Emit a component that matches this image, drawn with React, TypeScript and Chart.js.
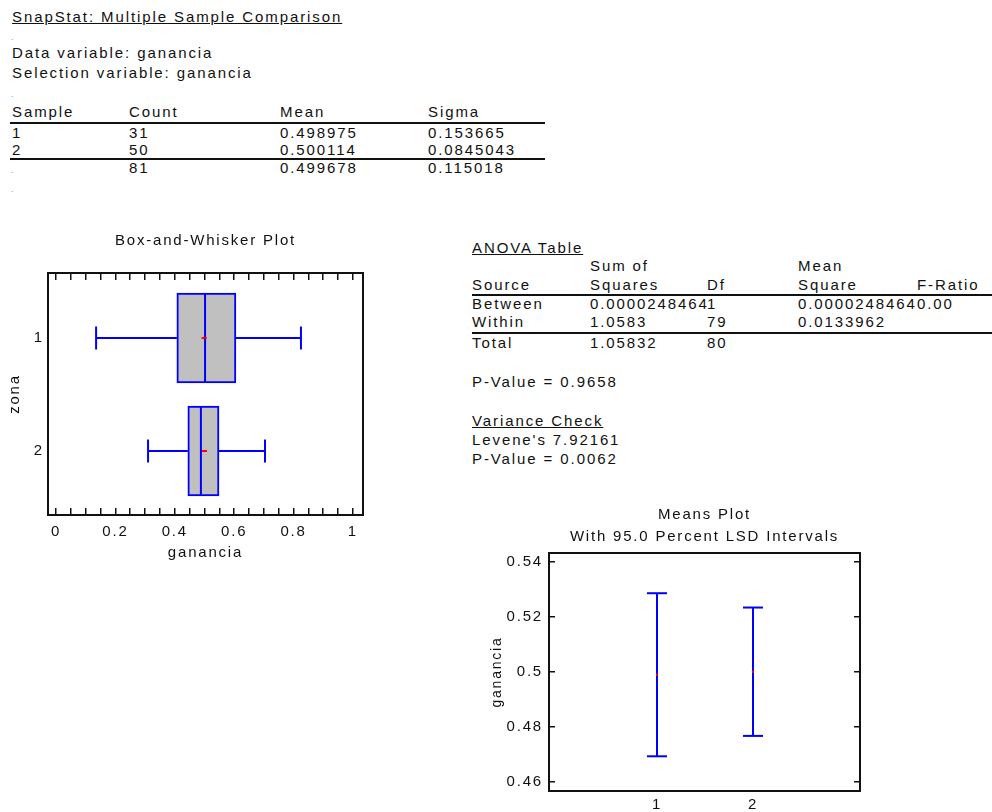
import React, { useEffect, useRef } from "react";
import { Chart, registerables } from "chart.js";

Chart.register(...registerables);

// ---------- data ----------
const SAMPLE_IDS = ["1", "2", ""];
const SAMPLE_COUNTS = ["31", "50", "81"];
const SAMPLE_MEANS = ["0.498975", "0.500114", "0.499678"];
const SAMPLE_SIGMAS = ["0.153665", "0.0845043", "0.115018"];

const ANOVA_SOURCES = ["Between", "Within", "Total"];
const ANOVA_SS = ["0.0000248464", "1.0583", "1.05832"];
const ANOVA_DF = ["1", "79", "80"];
const ANOVA_MS = ["0.0000248464", "0.0133962", ""];
const ANOVA_F = ["0.00", "", ""];

const ZONES = [1, 2];
const ZONE_LABELS = ["1", "2"];
const BOX_MIN = [0.135, 0.31];
const BOX_Q1 = [0.407, 0.444];
const BOX_MEDIAN = [0.502, 0.488];
const BOX_Q3 = [0.606, 0.549];
const BOX_MAX = [0.825, 0.704];
const BOX_MEAN = [0.498975, 0.500114];
const BOX_X_TICKS = [0, 0.05, 0.1, 0.15, 0.2, 0.25, 0.3, 0.35, 0.4, 0.45, 0.5, 0.55, 0.6, 0.65, 0.7, 0.75, 0.8, 0.85, 0.9, 0.95, 1];
const BOX_X_LABEL_VALUES = [0, 0.2, 0.4, 0.6, 0.8, 1];
const BOX_X_LABELS = ["0", "0.2", "0.4", "0.6", "0.8", "1"];

const GROUPS = [1, 2];
const GROUP_LABELS = ["1", "2"];
const GROUP_MEANS = [0.498975, 0.500114];
const LSD_LOW = [0.4694, 0.4768];
const LSD_HIGH = [0.5286, 0.5234];
const MEANS_Y_TICKS = [0.46, 0.48, 0.5, 0.52, 0.54];
const MEANS_Y_LABELS = ["0.46", "0.48", "0.5", "0.52", "0.54"];

// ---------- style ----------
const FONT = "'Liberation Sans', Arial, sans-serif";
const TEXT = "#111111";
const BLUE = "#0000ff";

const near = (a: number, b: number) => Math.abs(a - b) < 1e-9;

const spacingPlugin = {
  id: "spacing",
  beforeDraw(chart: any) {
    (chart.ctx as any).letterSpacing = "1.8px";
  },
};

const framePlugin = {
  id: "frame",
  afterDraw(chart: any) {
    const { ctx, chartArea } = chart;
    ctx.save();
    ctx.strokeStyle = "#111";
    ctx.lineWidth = 2;
    ctx.strokeRect(chartArea.left, chartArea.top, chartArea.right - chartArea.left, chartArea.bottom - chartArea.top);
    ctx.restore();
  },
};

function seg(ctx: any, x1: number, y1: number, x2: number, y2: number) {
  ctx.beginPath();
  ctx.moveTo(x1, y1);
  ctx.lineTo(x2, y2);
  ctx.stroke();
}

const boxPlugin = {
  id: "boxParts",
  afterDatasetsDraw(chart: any) {
    const { ctx } = chart;
    const xs = chart.scales.x;
    const ys = chart.scales.y;
    ctx.save();
    ZONES.forEach((z, i) => {
      const yc = ys.getPixelForValue(z);
      ctx.strokeStyle = BLUE;
      ctx.lineWidth = 2;
      seg(ctx, xs.getPixelForValue(BOX_MIN[i]), yc, xs.getPixelForValue(BOX_Q1[i]), yc);
      seg(ctx, xs.getPixelForValue(BOX_Q3[i]), yc, xs.getPixelForValue(BOX_MAX[i]), yc);
      seg(ctx, xs.getPixelForValue(BOX_MIN[i]), yc - 11.5, xs.getPixelForValue(BOX_MIN[i]), yc + 11.5);
      seg(ctx, xs.getPixelForValue(BOX_MAX[i]), yc - 11.5, xs.getPixelForValue(BOX_MAX[i]), yc + 11.5);
      seg(ctx, xs.getPixelForValue(BOX_MEDIAN[i]), yc - 44, xs.getPixelForValue(BOX_MEDIAN[i]), yc + 44);
      ctx.strokeStyle = "#ff0000";
      const mx = xs.getPixelForValue(BOX_MEAN[i]);
      seg(ctx, mx - 2.5, yc, mx + 2.5, yc);
    });
    ctx.restore();
  },
};

const intervalPlugin = {
  id: "intervals",
  beforeDatasetsDraw(chart: any) {
    const { ctx } = chart;
    const xs = chart.scales.x;
    const ys = chart.scales.y;
    ctx.save();
    ctx.strokeStyle = BLUE;
    ctx.lineWidth = 2;
    GROUPS.forEach((g, i) => {
      const xc = xs.getPixelForValue(g);
      const yl = ys.getPixelForValue(LSD_LOW[i]);
      const yh = ys.getPixelForValue(LSD_HIGH[i]);
      seg(ctx, xc, yl, xc, yh);
      seg(ctx, xc - 10, yl, xc + 10, yl);
      seg(ctx, xc - 10, yh, xc + 10, yh);
    });
    ctx.restore();
  },
};

function BoxPlot() {
  const ref = useRef<HTMLCanvasElement>(null);
  useEffect(() => {
    const font = { family: FONT, size: 15, weight: "normal" as const };
    const chart = new Chart(ref.current!, {
      type: "bar",
      data: {
        datasets: [
          {
            data: ZONES.map((z, i) => ({ x: [BOX_Q1[i], BOX_Q3[i]], y: z })) as any,
            backgroundColor: "#c0c0c0",
            borderColor: BLUE,
            borderWidth: 2,
            borderSkipped: false,
            barThickness: 90,
            xAxisID: "x",
            yAxisID: "y",
          },
        ],
      },
      options: {
        indexAxis: "y",
        animation: false,
        responsive: false,
        devicePixelRatio: 1,
        layout: { padding: { left: 0, top: 0, right: 17, bottom: 0 } },
        plugins: {
          legend: { display: false },
          tooltip: { enabled: false },
          title: {
            display: true,
            fullSize: false,
            text: "Box-and-Whisker Plot",
            color: TEXT,
            font,
            padding: { top: 7, bottom: 23 },
          },
        },
        scales: {
          x: {
            type: "linear",
            position: "bottom",
            bounds: "data",
            offset: false,
            min: -0.027,
            max: 1.034,
            afterBuildTicks: (s: any) => {
              s.ticks = BOX_X_TICKS.map((v) => ({ value: v }));
            },
            ticks: {
              autoSkip: false,
              maxRotation: 0,
              padding: 15,
              color: TEXT,
              font,
              callback: (v: any) => {
                const k = BOX_X_LABEL_VALUES.findIndex((l) => near(l, Number(v)));
                return k >= 0 ? BOX_X_LABELS[k] : "";
              },
            },
            grid: { display: true, offset: false, drawOnChartArea: false, drawTicks: true, tickLength: -7, color: "#111", lineWidth: 1.5 },
            border: { display: false },
            title: { display: true, text: "ganancia", color: TEXT, font, padding: { top: 0, bottom: 8 } },
            afterFit: (s: any) => {
              s.height = 55;
            },
          },
          xTop: {
            type: "linear",
            position: "top",
            bounds: "data",
            offset: false,
            min: -0.027,
            max: 1.034,
            afterBuildTicks: (s: any) => {
              s.ticks = BOX_X_TICKS.map((v) => ({ value: v }));
            },
            ticks: { display: false },
            grid: { display: true, offset: false, drawOnChartArea: false, drawTicks: true, tickLength: -7, color: "#111", lineWidth: 1.5 },
            border: { display: false },
            afterFit: (s: any) => {
              s.height = 0;
            },
          },
          y: {
            type: "linear",
            position: "left",
            reverse: true,
            bounds: "data",
            offset: false,
            min: 0.425,
            max: 2.566,
            afterBuildTicks: (s: any) => {
              s.ticks = ZONES.map((v) => ({ value: v }));
            },
            ticks: {
              padding: 4,
              color: TEXT,
              font,
              callback: (v: any) => {
                const k = ZONES.findIndex((z) => near(z, Number(v)));
                return k >= 0 ? ZONE_LABELS[k] : "";
              },
            },
            grid: { display: false, offset: false, drawTicks: false },
            border: { display: false },
            title: { display: true, text: "zona", color: TEXT, font, padding: { top: 6, bottom: 0 } },
            afterFit: (s: any) => {
              s.width = 48;
            },
          },
        },
      } as any,
      plugins: [spacingPlugin, boxPlugin, framePlugin],
    });
    return () => chart.destroy();
  }, []);
  return (
    <canvas
      ref={ref}
      width={380}
      height={345}
      style={{ position: "absolute", left: 0, top: 225, width: 380, height: 345 }}
    />
  );
}

function MeansPlot() {
  const ref = useRef<HTMLCanvasElement>(null);
  useEffect(() => {
    const font = { family: FONT, size: 15, weight: "normal" as const };
    const chart = new Chart(ref.current!, {
      type: "scatter",
      data: {
        datasets: [
          {
            data: GROUPS.map((g, i) => ({ x: g, y: GROUP_MEANS[i] })),
            pointRadius: 1.2,
            pointBackgroundColor: "#ff0000",
            pointBorderColor: "#ff0000",
            pointBorderWidth: 0,
            xAxisID: "x",
            yAxisID: "y",
          },
        ],
      },
      options: {
        animation: false,
        responsive: false,
        devicePixelRatio: 1,
        layout: { padding: { left: 0, top: 0, right: 20, bottom: 0 } },
        plugins: {
          legend: { display: false },
          tooltip: { enabled: false },
          title: {
            display: true,
            fullSize: false,
            text: ["Means Plot", "With 95.0 Percent LSD Intervals"],
            color: TEXT,
            font: { family: FONT, size: 15, weight: "normal", lineHeight: 1.45 },
            padding: { top: 4, bottom: 5.5 },
          },
        },
        scales: {
          x: {
            type: "linear",
            position: "bottom",
            bounds: "data",
            min: -0.125,
            max: 3.115,
            afterBuildTicks: (s: any) => {
              s.ticks = GROUPS.map((v) => ({ value: v }));
            },
            ticks: {
              padding: 4.5,
              color: TEXT,
              font,
              callback: (v: any) => {
                const k = GROUPS.findIndex((g) => near(g, Number(v)));
                return k >= 0 ? GROUP_LABELS[k] : "";
              },
            },
            grid: { display: false, drawTicks: false },
            border: { display: false },
            afterFit: (s: any) => {
              s.height = 18;
            },
          },
          y: {
            type: "linear",
            position: "left",
            bounds: "data",
            min: 0.4568,
            max: 0.5432,
            afterBuildTicks: (s: any) => {
              s.ticks = MEANS_Y_TICKS.map((v) => ({ value: v }));
            },
            ticks: {
              padding: 12,
              color: TEXT,
              font,
              callback: (v: any) => {
                const k = MEANS_Y_TICKS.findIndex((t) => near(t, Number(v)));
                return k >= 0 ? MEANS_Y_LABELS[k] : "";
              },
            },
            grid: { display: true, drawOnChartArea: false, drawTicks: true, tickLength: -6, color: "#111", lineWidth: 1.5 },
            border: { display: false },
            title: { display: true, text: "ganancia", color: TEXT, font: { family: FONT, size: 14, weight: "normal" }, padding: { top: 9, bottom: 0 } },
            afterFit: (s: any) => {
              s.width = 69;
            },
          },
          yRight: {
            type: "linear",
            position: "right",
            bounds: "data",
            min: 0.4568,
            max: 0.5432,
            afterBuildTicks: (s: any) => {
              s.ticks = MEANS_Y_TICKS.map((v) => ({ value: v }));
            },
            ticks: { display: false },
            grid: { display: true, drawOnChartArea: false, drawTicks: true, tickLength: -6, color: "#111", lineWidth: 1.5 },
            border: { display: false },
            afterFit: (s: any) => {
              s.width = 0;
            },
          },
        },
      } as any,
      plugins: [spacingPlugin, intervalPlugin, framePlugin],
    });
    return () => chart.destroy();
  }, []);
  return (
    <canvas
      ref={ref}
      width={400}
      height={312}
      style={{ position: "absolute", left: 480, top: 500, width: 400, height: 312 }}
    />
  );
}

function T({ x, y, u, children }: { x: number; y: number; u?: boolean; children: any }) {
  return (
    <div
      style={{
        position: "absolute",
        left: x,
        top: y - 9,
        height: 18,
        lineHeight: "18px",
        fontSize: 15,
        letterSpacing: "1.9px",
        whiteSpace: "nowrap",
        textDecoration: u ? "underline" : "none",
      }}
    >
      {children}
    </div>
  );
}

function Dot({ x, y }: { x: number; y: number }) {
  return (
    <div style={{ position: "absolute", left: x, top: y - 6, fontSize: 9, lineHeight: "10px", color: "#999" }}>.</div>
  );
}

function Rule({ x1, x2, y }: { x1: number; x2: number; y: number }) {
  return <div style={{ position: "absolute", left: x1, top: y - 1, width: x2 - x1, height: 2, background: "#111" }} />;
}

const SAMPLE_ROW_Y = [133, 150, 168];
const ANOVA_ROW_Y = [304, 322, 343];

export default function App() {
  return (
    <div
      style={{
        position: "absolute",
        left: 0,
        top: 0,
        width: 992,
        height: 812,
        overflow: "hidden",
        background: "#fff",
        fontFamily: FONT,
        color: TEXT,
      }}
    >
      <T x={12} y={17} u>
        SnapStat: Multiple Sample Comparison
      </T>
      <Dot x={11} y={38} />
      <T x={12} y={53}>Data variable: ganancia</T>
      <T x={12} y={73}>Selection variable: ganancia</T>
      <Dot x={11} y={95} />

      <T x={12} y={112}>Sample</T>
      <T x={129} y={112}>Count</T>
      <T x={280} y={112}>Mean</T>
      <T x={428} y={112}>Sigma</T>
      <Rule x1={10} x2={545} y={123} />
      <Rule x1={10} x2={545} y={159} />
      {SAMPLE_COUNTS.map((c, i) => (
        <React.Fragment key={i}>
          {SAMPLE_IDS[i] ? <T x={12} y={SAMPLE_ROW_Y[i]}>{SAMPLE_IDS[i]}</T> : <Dot x={11} y={SAMPLE_ROW_Y[i] + 3} />}
          <T x={129} y={SAMPLE_ROW_Y[i]}>{c}</T>
          <T x={280} y={SAMPLE_ROW_Y[i]}>{SAMPLE_MEANS[i]}</T>
          <T x={428} y={SAMPLE_ROW_Y[i]}>{SAMPLE_SIGMAS[i]}</T>
        </React.Fragment>
      ))}
      <Dot x={11} y={190} />

      <T x={472} y={248} u>ANOVA Table</T>
      <T x={590} y={266}>Sum of</T>
      <T x={798} y={266}>Mean</T>
      <T x={472} y={285}>Source</T>
      <T x={590} y={285}>Squares</T>
      <T x={707} y={285}>Df</T>
      <T x={798} y={285}>Square</T>
      <T x={917} y={285}>F-Ratio</T>
      <Rule x1={472} x2={992} y={295} />
      <Rule x1={472} x2={992} y={333} />
      {ANOVA_SOURCES.map((s, i) => (
        <React.Fragment key={s}>
          <T x={472} y={ANOVA_ROW_Y[i]}>{s}</T>
          <T x={590} y={ANOVA_ROW_Y[i]}>{ANOVA_SS[i]}</T>
          <T x={707} y={ANOVA_ROW_Y[i]}>{ANOVA_DF[i]}</T>
          <T x={798} y={ANOVA_ROW_Y[i]}>{ANOVA_MS[i]}</T>
          <T x={917} y={ANOVA_ROW_Y[i]}>{ANOVA_F[i]}</T>
        </React.Fragment>
      ))}
      <T x={472} y={382}>P-Value = 0.9658</T>
      <T x={472} y={421} u>Variance Check</T>
      <T x={472} y={440}>Levene's 7.92161</T>
      <T x={472} y={459}>P-Value = 0.0062</T>

      <BoxPlot />
      <MeansPlot />
    </div>
  );
}
